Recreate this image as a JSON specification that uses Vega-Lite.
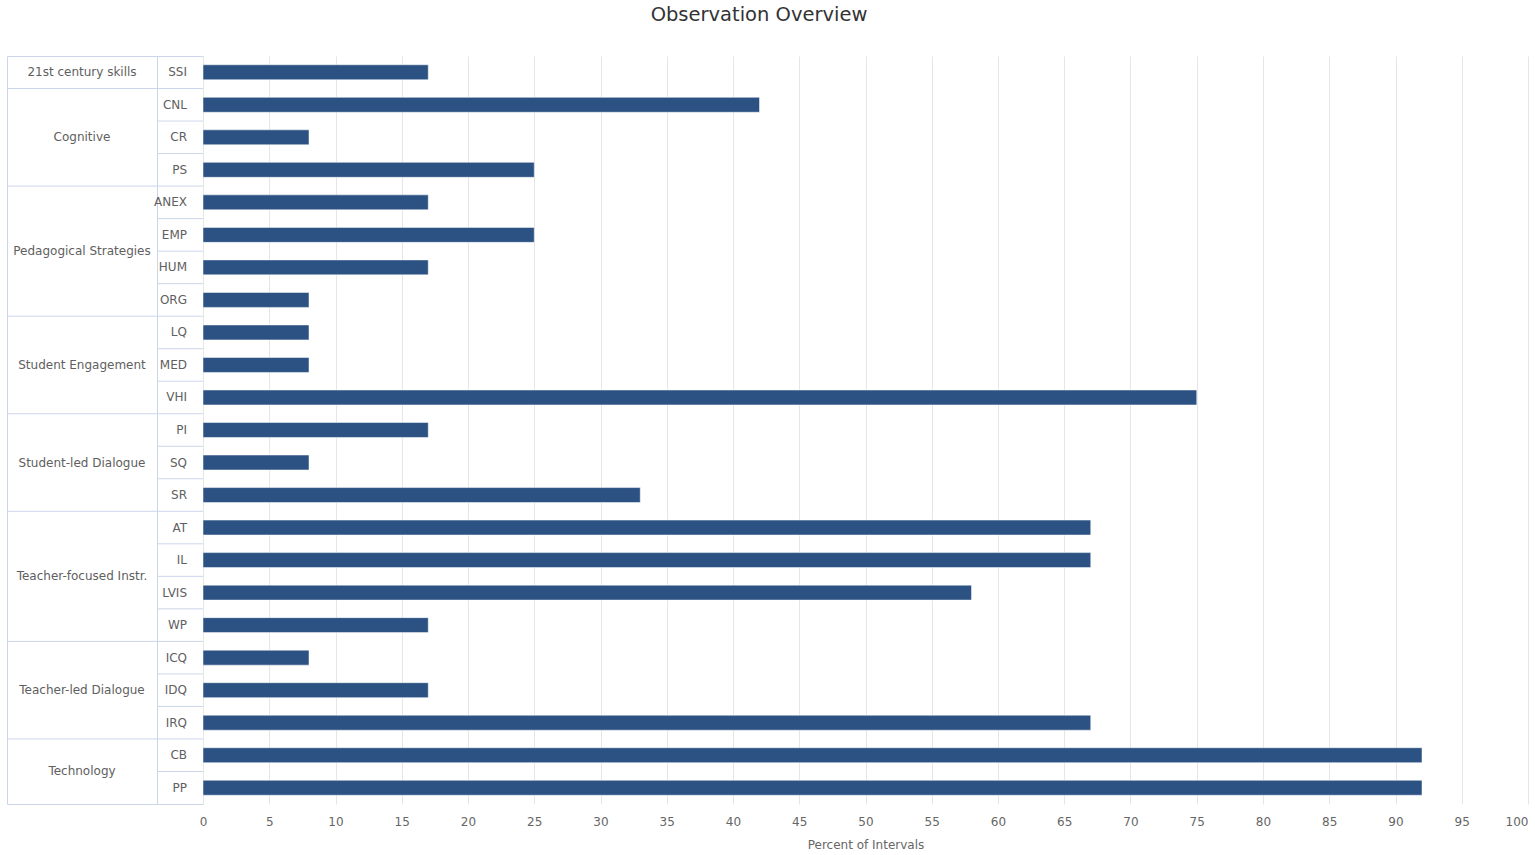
{
  "$schema": "https://vega.github.io/schema/vega-lite/v6.json",
  "background": "white",
  "padding": {"left": 6, "top": 5, "right": 5, "bottom": 0},
  "bounds": "flush",
  "title": {"text": "Observation Overview", "fontSize": 19.5, "font": "DejaVu Sans", "fontWeight": "normal", "color": "#333333", "anchor": "middle", "offset": 30, "dx": -8},
  "config": {"view": {"stroke": null}, "font": "DejaVu Sans"},
  "data": {"values": [
    {"group": "21st century skills", "code": "SSI", "value": 17},
    {"group": "Cognitive", "code": "CNL", "value": 42},
    {"group": "Cognitive", "code": "CR", "value": 8},
    {"group": "Cognitive", "code": "PS", "value": 25},
    {"group": "Pedagogical Strategies", "code": "ANEX", "value": 17},
    {"group": "Pedagogical Strategies", "code": "EMP", "value": 25},
    {"group": "Pedagogical Strategies", "code": "HUM", "value": 17},
    {"group": "Pedagogical Strategies", "code": "ORG", "value": 8},
    {"group": "Student Engagement", "code": "LQ", "value": 8},
    {"group": "Student Engagement", "code": "MED", "value": 8},
    {"group": "Student Engagement", "code": "VHI", "value": 75},
    {"group": "Student-led Dialogue", "code": "PI", "value": 17},
    {"group": "Student-led Dialogue", "code": "SQ", "value": 8},
    {"group": "Student-led Dialogue", "code": "SR", "value": 33},
    {"group": "Teacher-focused Instr.", "code": "AT", "value": 67},
    {"group": "Teacher-focused Instr.", "code": "IL", "value": 67},
    {"group": "Teacher-focused Instr.", "code": "LVIS", "value": 58},
    {"group": "Teacher-focused Instr.", "code": "WP", "value": 17},
    {"group": "Teacher-led Dialogue", "code": "ICQ", "value": 8},
    {"group": "Teacher-led Dialogue", "code": "IDQ", "value": 17},
    {"group": "Teacher-led Dialogue", "code": "IRQ", "value": 67},
    {"group": "Technology", "code": "CB", "value": 92},
    {"group": "Technology", "code": "PP", "value": 92}
  ]},
  "spacing": 0,
  "hconcat": [
    {
      "width": 150,
      "height": 748,
      "view": {"stroke": "#ccd6eb"},
      "transform": [
        {"window": [{"op": "row_number", "as": "rn"}]},
        {"aggregate": [{"op": "min", "field": "rn", "as": "first"}, {"op": "max", "field": "rn", "as": "last"}], "groupby": ["group"]},
        {"calculate": "datum.first - 1", "as": "top"},
        {"calculate": "(datum.first - 1 + datum.last) / 2", "as": "mid"}
      ],
      "layer": [
        {
          "transform": [{"filter": "datum.top > 0"}],
          "mark": {"type": "rule", "color": "#ccd6eb"},
          "encoding": {
            "y": {"field": "top", "type": "quantitative", "scale": {"domain": [0, 23], "reverse": true, "nice": false, "zero": false}, "axis": null}
          }
        },
        {
          "mark": {"type": "text", "fontSize": 12, "color": "#606060"},
          "encoding": {
            "y": {"field": "mid", "type": "quantitative", "scale": {"domain": [0, 23], "reverse": true, "nice": false, "zero": false}, "axis": null},
            "x": {"datum": 0.5, "type": "quantitative", "scale": {"domain": [0, 1]}, "axis": null},
            "text": {"field": "group"}
          }
        }
      ]
    },
    {
      "width": 46,
      "height": 748,
      "view": {"stroke": "#ccd6eb"},
      "transform": [
        {"window": [{"op": "row_number", "as": "rn"}]},
        {"calculate": "datum.rn - 1", "as": "top"},
        {"calculate": "datum.rn - 0.5", "as": "mid"}
      ],
      "layer": [
        {
          "transform": [{"filter": "datum.top > 0"}],
          "mark": {"type": "rule", "color": "#ccd6eb"},
          "encoding": {
            "y": {"field": "top", "type": "quantitative", "scale": {"domain": [0, 23], "reverse": true, "nice": false, "zero": false}, "axis": null}
          }
        },
        {
          "mark": {"type": "text", "fontSize": 12, "color": "#606060", "align": "right", "dx": -16},
          "encoding": {
            "y": {"field": "mid", "type": "quantitative", "scale": {"domain": [0, 23], "reverse": true, "nice": false, "zero": false}, "axis": null},
            "x": {"datum": 1, "type": "quantitative", "scale": {"domain": [0, 1]}, "axis": null},
            "text": {"field": "code"}
          }
        }
      ]
    },
    {
      "width": 1325,
      "height": 748,
      "mark": {"type": "bar", "color": "#2b5283", "stroke": "#ffffff", "strokeWidth": 0.5},
      "encoding": {
        "y": {"field": "code", "type": "nominal", "sort": null, "axis": null, "scale": {"paddingInner": 0.54, "paddingOuter": 0.27}},
        "x": {
          "field": "value", "type": "quantitative",
          "scale": {"domain": [0, 100], "nice": false},
          "axis": {
            "values": [0, 5, 10, 15, 20, 25, 30, 35, 40, 45, 50, 55, 60, 65, 70, 75, 80, 85, 90, 95, 100],
            "grid": true, "gridColor": "#e6e6e6", "domain": false, "ticks": false, "labelFlush": false,
            "labelAlign": {"condition": {"test": "datum.value == 100", "value": "right"}, "value": "center"},
            "labelColor": "#666666", "labelFontSize": 12, "labelPadding": 12,
            "title": "Percent of Intervals", "titleColor": "#666666", "titleFontSize": 12, "titleFontWeight": "normal", "titlePadding": 12
          }
        }
      }
    }
  ]
}
